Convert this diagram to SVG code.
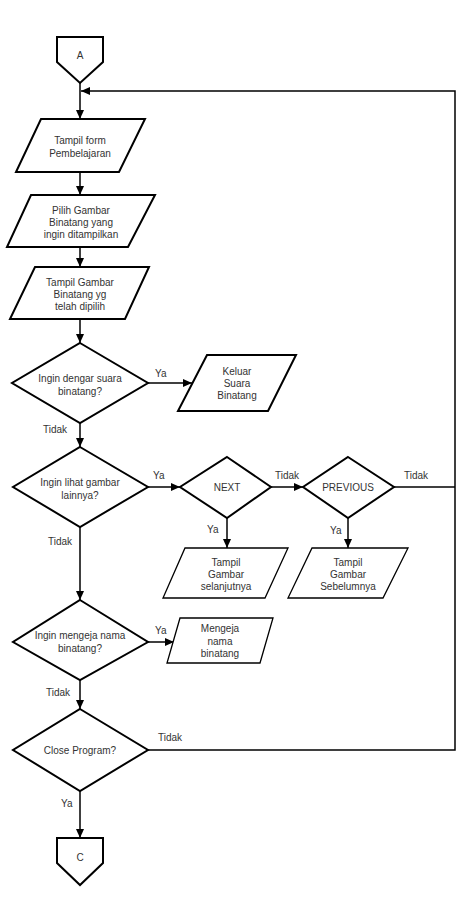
<svg xmlns="http://www.w3.org/2000/svg" width="460" height="909" viewBox="0 0 460 909">
<defs>
<style>
.shape{fill:#fff;stroke:#000;stroke-width:2;stroke-linejoin:miter}
.thin{fill:#fff;stroke:#000;stroke-width:1.3}
.conn{fill:none;stroke:#000;stroke-width:1.5}
text{font-family:"Liberation Sans",Arial,sans-serif;font-size:10px;fill:#333;text-anchor:middle}
.lbl{text-anchor:start}
</style>
<marker id="arr" markerUnits="userSpaceOnUse" markerWidth="10" markerHeight="8" refX="9" refY="4" orient="auto">
<path d="M0,0 L9,4 L0,8 Z" fill="#000"/>
</marker>
</defs>
<rect width="460" height="909" fill="#fff"/>
<g id="connectors">
<path class="conn" d="M80,83 V119" marker-end="url(#arr)"/>
<path class="conn" d="M80,172 V195" marker-end="url(#arr)"/>
<path class="conn" d="M80,247 V267" marker-end="url(#arr)"/>
<path class="conn" d="M80,319 V343" marker-end="url(#arr)"/>
<path class="conn" d="M148,383 H192" marker-end="url(#arr)"/>
<path class="conn" d="M80,423 V447" marker-end="url(#arr)"/>
<path class="conn" d="M148,487 H180" marker-end="url(#arr)"/>
<path class="conn" d="M271,487 H303" marker-end="url(#arr)"/>
<path class="conn" d="M394,487 H455"/>
<path class="conn" d="M227,518 V548" marker-end="url(#arr)"/>
<path class="conn" d="M348,518 V548" marker-end="url(#arr)"/>
<path class="conn" d="M80,527 V600" marker-end="url(#arr)"/>
<path class="conn" d="M148,642 H174" marker-end="url(#arr)"/>
<path class="conn" d="M80,680 V709" marker-end="url(#arr)"/>
<path class="conn" d="M148,750 H455 V91 H81" marker-end="url(#arr)"/>
<path class="conn" d="M80,791 V838" marker-end="url(#arr)"/>
<text class="lbl" x="155" y="377">Ya</text>
<text class="lbl" x="43" y="433">Tidak</text>
<text class="lbl" x="153" y="479">Ya</text>
<text class="lbl" x="275" y="479">Tidak</text>
<text class="lbl" x="404" y="479">Tidak</text>
<text class="lbl" x="207" y="533">Ya</text>
<text class="lbl" x="330" y="534">Ya</text>
<text class="lbl" x="48" y="545">Tidak</text>
<text class="lbl" x="155" y="634">Ya</text>
<text class="lbl" x="46" y="696">Tidak</text>
<text class="lbl" x="158" y="741">Tidak</text>
<text class="lbl" x="61" y="807">Ya</text>
</g>
<g id="nodeA">
<path class="shape" d="M57,37 H103 V62 L80,83 L57,62 Z"/>
<text x="80" y="59">A</text>
</g>
<g id="tampilForm">
<path class="shape" d="M41,119 H145 L119,172 H16 Z"/>
<text x="80" y="144">Tampil form</text>
<text x="80" y="157">Pembelajaran</text>
</g>
<g id="pilihGambar">
<path class="shape" d="M31,195 H155 L128,247 H7 Z"/>
<text x="81" y="214">Pilih Gambar</text>
<text x="81" y="226">Binatang yang</text>
<text x="81" y="238">ingin ditampilkan</text>
</g>
<g id="tampilGambar">
<path class="shape" d="M35,267 H149 L125,319 H10 Z"/>
<text x="80" y="286">Tampil Gambar</text>
<text x="80" y="298">Binatang yg</text>
<text x="80" y="310">telah dipilih</text>
</g>
<g id="decSuara">
<path class="shape" d="M80,343 L148,383 L80,423 L12,383 Z"/>
<text x="80" y="382">Ingin dengar suara</text>
<text x="80" y="395">binatang?</text>
</g>
<g id="keluarSuara">
<path class="shape" d="M207,355 H296 L268,411 H178 Z"/>
<text x="237" y="375">Keluar</text>
<text x="237" y="387">Suara</text>
<text x="237" y="399">Binatang</text>
</g>
<g id="decLihat">
<path class="shape" d="M80,447 L148,487 L80,527 L13,487 Z"/>
<text x="80" y="486">Ingin lihat gambar</text>
<text x="80" y="499">lainnya?</text>
</g>
<g id="next">
<path class="shape" d="M227,457 L271,487 L227,518 L180,487 Z"/>
<text x="227" y="491">NEXT</text>
</g>
<g id="previous">
<path class="shape" d="M348,457 L394,487 L348,518 L303,487 Z"/>
<text x="348" y="491">PREVIOUS</text>
</g>
<g id="selanjutnya">
<path class="thin" d="M185,548 H288 L265,598 H163 Z"/>
<text x="226" y="566">Tampil</text>
<text x="226" y="578">Gambar</text>
<text x="226" y="590">selanjutnya</text>
</g>
<g id="sebelumnya">
<path class="thin" d="M312,548 H408 L383,598 H288 Z"/>
<text x="348" y="566">Tampil</text>
<text x="348" y="578">Gambar</text>
<text x="348" y="590">Sebelumnya</text>
</g>
<g id="decEja">
<path class="shape" d="M80,600 L148,642 L80,680 L13,642 Z"/>
<text x="80" y="639">Ingin mengeja nama</text>
<text x="80" y="652">binatang?</text>
</g>
<g id="mengeja">
<path class="thin" d="M180,618 H273 L260,663 H167 Z"/>
<text x="220" y="632">Mengeja</text>
<text x="220" y="645">nama</text>
<text x="220" y="657">binatang</text>
</g>
<g id="decClose">
<path class="shape" d="M80,709 L148,750 L80,791 L13,750 Z"/>
<text x="80" y="754">Close Program?</text>
</g>
<g id="nodeC">
<path class="shape" d="M57,838 H103 V863 L80,885 L57,863 Z"/>
<text x="80" y="861">C</text>
</g>
</svg>
